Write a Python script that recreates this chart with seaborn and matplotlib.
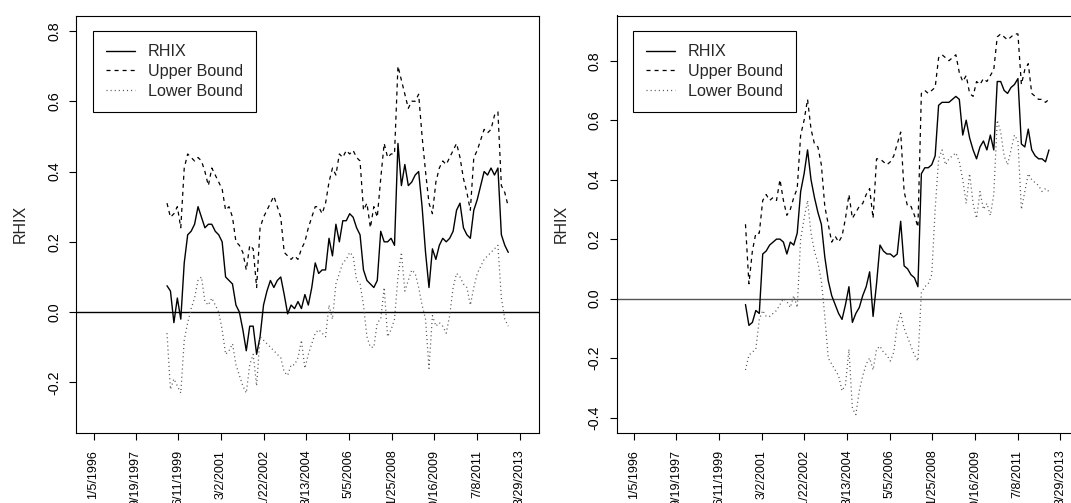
import pandas as pd
import matplotlib
matplotlib.use("Agg")
import matplotlib.pyplot as plt
import seaborn as sns

# ---------------- data ----------------
tick_dates = ["1996-01-05", "1997-09-19", "1999-06-11", "2001-03-02", "2002-11-22",
              "2004-08-13", "2006-05-05", "2008-01-25", "2009-10-16", "2011-07-08",
              "2013-03-29"]
tick_labels = ["1/5/1996", "9/19/1997", "6/11/1999", "3/2/2001", "11/22/2002",
               "8/13/2004", "5/5/2006", "1/25/2008", "10/16/2009", "7/8/2011",
               "3/29/2013"]

left_start, left_end = "1998-12-25", "2012-10-12"
right_start, right_end = "2000-07-05", "2012-10-12"

left_rhix = [0.075, 0.06, -0.03, 0.04, -0.02, 0.14, 0.22, 0.23, 0.25, 0.30,
             0.27, 0.24, 0.25, 0.25, 0.23, 0.22, 0.20, 0.10, 0.09, 0.08,
             0.02, 0.0, -0.05, -0.11, -0.04, -0.04, -0.12, -0.07, 0.02, 0.06,
             0.09, 0.07, 0.09, 0.10, 0.05, -0.005, 0.02, 0.01, 0.03, 0.01,
             0.05, 0.02, 0.07, 0.14, 0.11, 0.12, 0.12, 0.21, 0.16, 0.25,
             0.20, 0.26, 0.26, 0.28, 0.27, 0.24, 0.22, 0.12, 0.09, 0.08,
             0.07, 0.09, 0.23, 0.20, 0.20, 0.21, 0.19, 0.48, 0.36, 0.42,
             0.36, 0.37, 0.39, 0.40, 0.30, 0.17, 0.07, 0.18, 0.15, 0.19,
             0.21, 0.20, 0.21, 0.23, 0.29, 0.31, 0.24, 0.22, 0.21, 0.29,
             0.32, 0.36, 0.40, 0.39, 0.41, 0.39, 0.41, 0.22, 0.19, 0.17]
left_upper = [0.31, 0.27, 0.28, 0.30, 0.24, 0.41, 0.45, 0.44, 0.43, 0.44,
              0.43, 0.40, 0.36, 0.41, 0.39, 0.37, 0.35, 0.29, 0.30, 0.27,
              0.20, 0.19, 0.17, 0.12, 0.19, 0.18, 0.07, 0.24, 0.27, 0.29,
              0.31, 0.33, 0.30, 0.27, 0.17, 0.16, 0.15, 0.16, 0.15, 0.18,
              0.20, 0.24, 0.27, 0.30, 0.30, 0.28, 0.31, 0.37, 0.41, 0.39,
              0.45, 0.44, 0.46, 0.45, 0.46, 0.44, 0.43, 0.29, 0.31, 0.24,
              0.30, 0.27, 0.38, 0.48, 0.44, 0.45, 0.45, 0.70, 0.66, 0.62,
              0.58, 0.60, 0.60, 0.62, 0.50, 0.40, 0.31, 0.28, 0.37, 0.41,
              0.43, 0.42, 0.44, 0.46, 0.48, 0.44, 0.38, 0.34, 0.29, 0.44,
              0.46, 0.49, 0.52, 0.51, 0.52, 0.56, 0.57, 0.36, 0.34, 0.30]
left_lower = [-0.06, -0.22, -0.19, -0.21, -0.23, -0.08, -0.03, 0.01, 0.04, 0.09,
              0.10, 0.03, 0.02, 0.04, 0.02, 0.0, -0.05, -0.12, -0.11, -0.09,
              -0.15, -0.18, -0.21, -0.23, -0.15, -0.12, -0.21, -0.07, -0.08, -0.09,
              -0.10, -0.11, -0.12, -0.13, -0.17, -0.18, -0.15, -0.15, -0.13, -0.08,
              -0.16, -0.12, -0.09, -0.06, -0.05, -0.06, -0.07, 0.02, -0.02, 0.08,
              0.11, 0.14, 0.15, 0.17, 0.16, 0.09, 0.08, 0.02, -0.07, -0.10,
              -0.10, -0.03, -0.02, 0.07, -0.07, -0.05, -0.02, 0.10, 0.17, 0.06,
              0.09, 0.12, 0.11, 0.07, 0.02, -0.02, -0.16, -0.01, -0.04, -0.03,
              -0.04, -0.06, -0.01, 0.07, 0.11, 0.10, 0.08, 0.07, 0.02, 0.07,
              0.11, 0.13, 0.15, 0.16, 0.17, 0.18, 0.19, 0.04, -0.02, -0.04]

right_rhix = [-0.02, -0.09, -0.08, -0.04, -0.05, 0.15, 0.16, 0.18, 0.19, 0.20,
              0.20, 0.19, 0.15, 0.19, 0.18, 0.22, 0.36, 0.42, 0.50, 0.40,
              0.34, 0.29, 0.25, 0.14, 0.06, 0.01, -0.02, -0.05, -0.07, -0.02,
              0.04, -0.08, -0.05, -0.03, 0.01, 0.04, 0.09, -0.06, 0.05, 0.18,
              0.16, 0.15, 0.15, 0.14, 0.15, 0.26, 0.11, 0.10, 0.08, 0.07,
              0.04, 0.42, 0.44, 0.44, 0.45, 0.48, 0.65, 0.66, 0.66, 0.66,
              0.67, 0.68, 0.67, 0.55, 0.60, 0.54, 0.50, 0.47, 0.51, 0.53,
              0.50, 0.55, 0.50, 0.73, 0.73, 0.70, 0.69, 0.71, 0.72, 0.74,
              0.52, 0.51, 0.57, 0.50, 0.48, 0.47, 0.47, 0.46, 0.50]
right_upper = [0.25, 0.05, 0.16, 0.22, 0.22, 0.33, 0.35, 0.33, 0.34, 0.33,
               0.40, 0.33, 0.28, 0.30, 0.34, 0.37, 0.55, 0.60, 0.67, 0.57,
               0.52, 0.51, 0.45, 0.31, 0.25, 0.19, 0.21, 0.19, 0.21, 0.27,
               0.35, 0.27, 0.29, 0.31, 0.32, 0.35, 0.37, 0.27, 0.47, 0.47,
               0.46, 0.45, 0.46, 0.48, 0.52, 0.56, 0.36, 0.31, 0.31, 0.28,
               0.24, 0.69, 0.70, 0.69, 0.70, 0.71, 0.81, 0.82, 0.81, 0.80,
               0.81, 0.82, 0.76, 0.73, 0.75, 0.69, 0.68, 0.73, 0.72, 0.74,
               0.73, 0.75, 0.77, 0.88, 0.89, 0.88, 0.87, 0.88, 0.89, 0.89,
               0.72, 0.77, 0.79, 0.69, 0.68, 0.67, 0.67, 0.66, 0.67]
right_lower = [-0.24, -0.19, -0.18, -0.17, -0.07, -0.04, -0.06, -0.06, -0.05, -0.04,
               -0.02, 0.0, -0.01, -0.03, 0.01, -0.03, 0.20, 0.27, 0.33, 0.22,
               0.16, 0.12, 0.06, -0.06, -0.20, -0.22, -0.24, -0.26, -0.31, -0.29,
               -0.17, -0.37, -0.39, -0.31, -0.26, -0.22, -0.20, -0.24, -0.17, -0.16,
               -0.18, -0.19, -0.21, -0.18, -0.09, -0.05, -0.10, -0.13, -0.16, -0.19,
               -0.21, 0.02, 0.04, 0.05, 0.08, 0.30, 0.47, 0.50, 0.45, 0.47,
               0.48, 0.49, 0.46, 0.40, 0.32, 0.42, 0.32, 0.27, 0.36, 0.30,
               0.32, 0.28, 0.35, 0.60, 0.56, 0.48, 0.45, 0.50, 0.55, 0.53,
               0.30, 0.36, 0.42, 0.40, 0.39, 0.38, 0.36, 0.37, 0.36]

left_yticks = [-0.2, 0.0, 0.2, 0.4, 0.6, 0.8]
right_yticks = [-0.4, -0.2, 0.0, 0.2, 0.4, 0.6, 0.8]
series_names = ["RHIX", "Upper Bound", "Lower Bound"]

# ---------------- style ----------------
sns.set_style("ticks")
plt.rcParams["font.family"] = ["Liberation Sans", "DejaVu Sans"]
plt.rcParams["lines.scale_dashes"] = False
plt.rcParams["axes.linewidth"] = 0.8

W, H = 1071, 503
fig = plt.figure(figsize=(W / 100, H / 100), dpi=100)
fig.patch.set_facecolor("white")


def px_axes(x0, y0, x1, y1):
    return fig.add_axes([x0 / W, 1 - y1 / H, (x1 - x0) / W, (y1 - y0) / H])


axL = px_axes(76.4, 15.5, 538.6, 433)
axR = px_axes(617.1, 15.5, 1079.3, 433)

xlim = (pd.Timestamp("1995-04-27"), pd.Timestamp("2014-01-03"))


def draw(ax, start, end, rhix, upper, lower, ylim, yticks, zero_color, leg_xy):
    dates = pd.date_range(start, end, periods=len(rhix))
    df = pd.DataFrame({"date": dates, series_names[0]: rhix,
                       series_names[1]: upper, series_names[2]: lower})
    ax.axhline(0, color=zero_color, linewidth=1.0, zorder=1)
    sns.lineplot(data=df, x="date", y=series_names[0], ax=ax, color="black",
                 linewidth=1.0, errorbar=None, label=series_names[0])
    sns.lineplot(data=df, x="date", y=series_names[1], ax=ax, color="black",
                 linewidth=0.9, linestyle=(0, (2.9, 2.9)), errorbar=None,
                 label=series_names[1])
    sns.lineplot(data=df, x="date", y=series_names[2], ax=ax, color="#505050",
                 linewidth=0.9, linestyle=(0, (0.75, 2.2)), errorbar=None,
                 label=series_names[2])
    ax.set_xlim(*xlim)
    ax.set_ylim(*ylim)
    ax.set_xticks(pd.to_datetime(tick_dates))
    ax.set_xticklabels(tick_labels, rotation=90, fontsize=9.0)
    ax.set_yticks(yticks)
    ax.set_yticklabels(["%.1f" % v for v in yticks], rotation=90, va="center",
                       fontsize=10.3)
    ax.tick_params(axis="both", direction="out", length=5, width=0.8,
                   color="black", labelcolor="black")
    ax.tick_params(axis="x", pad=7.0)
    ax.tick_params(axis="y", pad=6)
    ax.set_xlabel("")
    ax.set_ylabel("RHIX", fontsize=11.5)
    ax.yaxis.set_label_coords(-0.105, 0.5)
    ax.grid(False)
    for s in ax.spines.values():
        s.set_visible(True)
        s.set_color("black")
        s.set_linewidth(0.8)
    handles, labels = ax.get_legend_handles_labels()
    leg = ax.legend(handles, labels, loc="upper left",
                    bbox_to_anchor=(leg_xy[0] / W, 1 - leg_xy[1] / H),
                    bbox_transform=fig.transFigure, borderaxespad=0,
                    frameon=True, fancybox=False, framealpha=1,
                    edgecolor="black", fontsize=11.6, handlelength=1.8,
                    handletextpad=0.8, borderpad=0.8, labelspacing=0.3)
    leg.get_frame().set_linewidth(0.8)


draw(axL, left_start, left_end, left_rhix, left_upper, left_lower,
     (-0.344, 0.844), left_yticks, "black", (93.3, 31.3))
draw(axR, right_start, right_end, right_rhix, right_upper, right_lower,
     (-0.452, 0.952), right_yticks, "#555555", (633.3, 31.3))

fig.savefig("out.png", dpi=100)
